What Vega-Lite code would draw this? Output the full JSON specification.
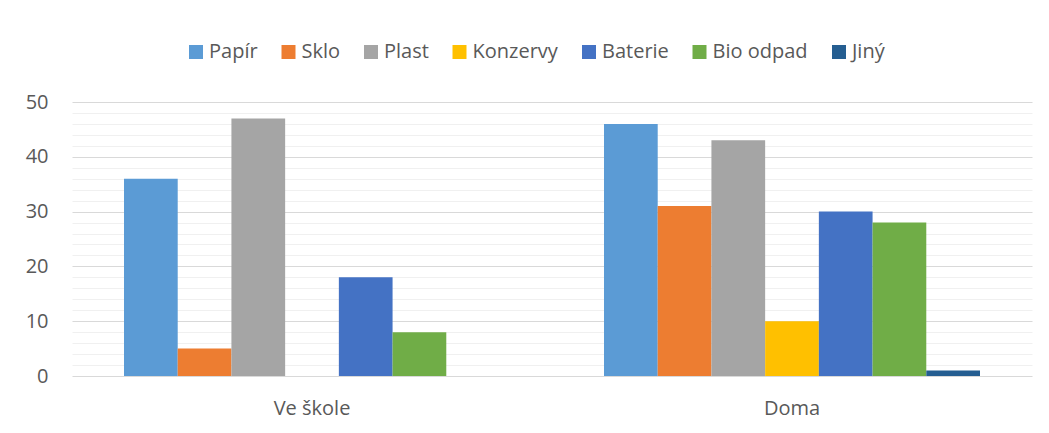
{
  "$schema": "https://vega.github.io/schema/vega-lite/v6.json",
  "autosize": "none",
  "width": 960,
  "height": 274,
  "padding": {"left": 72, "top": 102, "right": 17, "bottom": 57},
  "background": "white",
  "config": {
    "view": {"stroke": null},
    "font": "Open Sans",
    "axis": {"labelFont": "Open Sans", "labelFontSize": 20, "labelColor": "#595959"},
    "legend": {"labelFont": "Open Sans", "labelFontSize": 20, "labelColor": "#595959"}
  },
  "data": {
    "values": [
      {"misto": "Ve škole", "druh": "Papír", "pocet": 36},
      {"misto": "Ve škole", "druh": "Sklo", "pocet": 5},
      {"misto": "Ve škole", "druh": "Plast", "pocet": 47},
      {"misto": "Ve škole", "druh": "Konzervy", "pocet": 0},
      {"misto": "Ve škole", "druh": "Baterie", "pocet": 18},
      {"misto": "Ve škole", "druh": "Bio odpad", "pocet": 8},
      {"misto": "Ve škole", "druh": "Jiný", "pocet": 0},
      {"misto": "Doma", "druh": "Papír", "pocet": 46},
      {"misto": "Doma", "druh": "Sklo", "pocet": 31},
      {"misto": "Doma", "druh": "Plast", "pocet": 43},
      {"misto": "Doma", "druh": "Konzervy", "pocet": 10},
      {"misto": "Doma", "druh": "Baterie", "pocet": 30},
      {"misto": "Doma", "druh": "Bio odpad", "pocet": 28},
      {"misto": "Doma", "druh": "Jiný", "pocet": 1}
    ]
  },
  "mark": {"type": "bar"},
  "encoding": {
    "x": {
      "field": "misto",
      "type": "nominal",
      "sort": ["Ve škole", "Doma"],
      "scale": {"paddingInner": 0, "paddingOuter": 0},
      "axis": {
        "title": null,
        "labelAngle": 0,
        "ticks": false,
        "tickSize": 0,
        "domain": false,
        "labelPadding": 22,
        "labelBaseline": "top"
      }
    },
    "xOffset": {
      "field": "druh",
      "type": "nominal",
      "sort": ["Papír", "Sklo", "Plast", "Konzervy", "Baterie", "Bio odpad", "Jiný"],
      "scale": {"paddingInner": 0, "paddingOuter": 0.968}
    },
    "y": {
      "field": "pocet",
      "type": "quantitative",
      "scale": {"domain": [0, 50], "nice": false},
      "axis": {
        "title": null,
        "values": [0, 2, 4, 6, 8, 10, 12, 14, 16, 18, 20, 22, 24, 26, 28, 30, 32, 34, 36, 38, 40, 42, 44, 46, 48, 50],
        "labelExpr": "datum.value % 10 === 0 ? datum.label : ''",
        "ticks": false,
        "tickSize": 0,
        "domain": false,
        "labelPadding": 24,
        "gridColor": {"condition": {"test": "datum.value % 10 === 0", "value": "#d9d9d9"}, "value": "#f0f0f0"},
        "gridWidth": 1
      }
    },
    "color": {
      "field": "druh",
      "type": "nominal",
      "sort": ["Papír", "Sklo", "Plast", "Konzervy", "Baterie", "Bio odpad", "Jiný"],
      "scale": {
        "domain": ["Papír", "Sklo", "Plast", "Konzervy", "Baterie", "Bio odpad", "Jiný"],
        "range": ["#5B9BD5", "#ED7D31", "#A5A5A5", "#FFC000", "#4472C4", "#70AD47", "#255E91"]
      },
      "legend": {
        "title": null,
        "orient": "none",
        "direction": "horizontal",
        "legendX": 114,
        "legendY": -60,
        "columns": 7,
        "symbolType": "square",
        "symbolSize": 196,
        "symbolStrokeWidth": 0,
        "symbolOpacity": 1,
        "labelOffset": 3,
        "columnPadding": 20.5,
        "padding": 0
      }
    }
  }
}
